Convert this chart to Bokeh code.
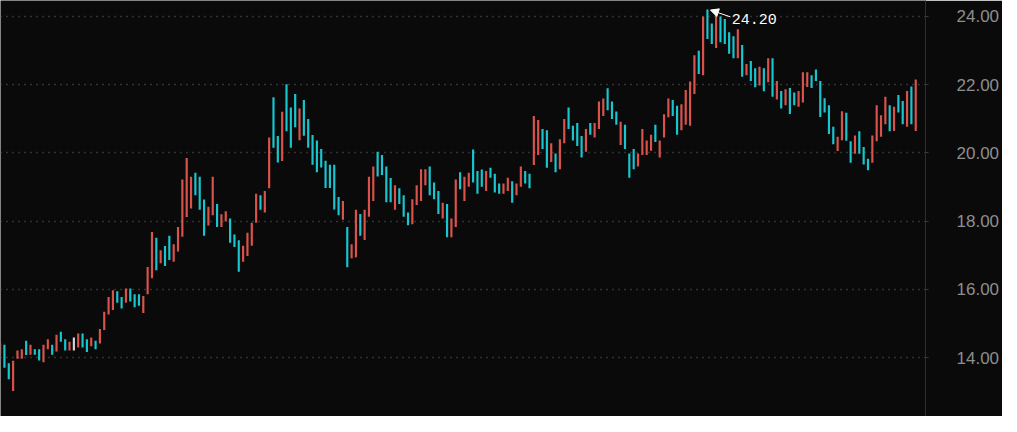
from bokeh.plotting import figure
from bokeh.models import ColumnDataSource, Range1d, FixedTicker, PrintfTickFormatter, Arrow, NormalHead
from bokeh.core.properties import value
from bokeh.embed import file_html
from bokeh.resources import INLINE

# ---- data (high / low of each bar, and its direction) ----
high = [
    14.43, 14.38, 13.84, 13.91, 14.21, 14.25, 14.50, 14.38, 14.25, 14.25,
    14.38, 14.54, 14.38, 14.67, 14.76, 14.54, 14.47, 14.59, 14.71, 14.71,
    14.54, 14.59, 14.50, 14.84, 15.35, 15.78, 15.98, 15.95, 15.78, 16.03,
    16.03, 15.86, 15.86, 15.81, 16.66, 17.68, 17.51, 17.15, 17.27, 17.57,
    17.32, 17.83, 19.22, 19.85, 19.30, 19.42, 19.30, 18.63, 18.42, 19.30,
    18.50, 18.20, 18.29, 18.08, 17.61, 17.44, 17.28, 17.66, 17.95, 18.80,
    18.76, 18.88, 20.45, 21.63, 20.49, 21.20, 22.01, 21.33, 21.72, 21.30,
    21.55, 20.99, 20.52, 20.36, 20.11, 19.77, 19.65, 19.65, 18.71, 18.59,
    17.83, 17.32, 18.33, 18.21, 18.33, 19.30, 19.60, 20.03, 19.94, 19.60,
    19.26, 19.05, 18.96, 18.76, 18.25, 18.64, 19.05, 19.52, 19.52, 19.60,
    19.13, 18.88, 18.54, 18.50, 18.08, 19.22, 19.43, 19.30, 19.42, 20.10,
    19.47, 19.51, 19.47, 19.56, 19.39, 19.10, 19.10, 19.27, 19.17, 19.10,
    19.60, 19.47, 19.39, 21.08, 20.96, 20.70, 20.66, 20.28, 19.98, 20.40,
    20.99, 21.33, 20.79, 20.87, 20.49, 20.70, 20.87, 20.87, 21.50, 21.59,
    21.89, 21.50, 21.21, 20.91, 20.82, 19.98, 20.11, 19.98, 20.70, 20.36,
    20.53, 20.82, 20.36, 21.13, 21.59, 21.55, 21.38, 21.42, 21.84, 22.09,
    22.86, 22.99, 23.99, 24.20, 23.79, 24.04, 23.99, 23.92, 23.53, 23.41,
    23.62, 23.16, 22.60, 22.69, 22.48, 22.52, 22.48, 22.77, 22.77, 22.10,
    21.81, 21.86, 21.90, 21.77, 21.81, 22.36, 22.36, 22.27, 22.44, 22.10,
    21.60, 21.39, 20.76, 20.47, 21.22, 21.17, 20.34, 20.51, 20.63, 20.17,
    19.83, 20.51, 21.39, 21.10, 21.64, 21.39, 21.35, 21.69, 21.52, 21.81,
    21.94, 22.15,
]
low = [
    14.10, 13.71, 13.37, 13.03, 13.97, 13.97, 14.08, 14.09, 14.09, 13.92,
    13.87, 14.25, 14.09, 14.18, 14.47, 14.21, 14.21, 14.21, 14.30, 14.30,
    14.17, 14.34, 14.25, 14.42, 14.81, 15.27, 15.40, 15.61, 15.44, 15.61,
    15.65, 15.48, 15.52, 15.31, 15.86, 16.33, 16.56, 16.77, 16.69, 16.86,
    16.81, 17.11, 17.54, 18.12, 18.37, 18.76, 18.33, 17.57, 17.87, 18.17,
    17.83, 17.83, 17.99, 17.37, 17.24, 16.52, 16.81, 16.98, 17.28, 17.95,
    18.33, 18.25, 18.96, 20.15, 19.72, 19.76, 20.63, 20.15, 20.75, 20.37,
    20.50, 20.15, 19.65, 19.43, 19.57, 18.97, 18.97, 18.34, 18.17, 18.04,
    16.65, 16.91, 16.94, 17.57, 17.45, 18.13, 18.59, 19.31, 19.35, 18.55,
    18.55, 18.33, 18.50, 18.13, 17.88, 17.91, 18.47, 18.59, 19.05, 18.76,
    18.64, 18.21, 18.08, 17.53, 17.53, 17.83, 18.93, 18.59, 19.01, 19.13,
    18.80, 19.01, 18.88, 19.27, 18.84, 18.80, 18.80, 18.88, 18.54, 18.76,
    19.01, 19.10, 18.96, 19.64, 19.94, 20.11, 19.56, 19.73, 19.43, 19.52,
    20.28, 20.70, 20.36, 20.20, 19.86, 20.03, 20.53, 20.45, 20.70, 21.08,
    21.25, 20.99, 20.82, 20.23, 20.11, 19.27, 19.52, 19.60, 19.94, 19.94,
    20.06, 20.32, 19.86, 20.45, 21.04, 21.08, 20.53, 20.66, 20.82, 20.79,
    21.72, 22.31, 22.27, 23.33, 23.19, 23.07, 23.24, 23.19, 22.90, 22.77,
    22.77, 22.23, 22.27, 22.10, 21.92, 21.97, 21.80, 22.07, 21.64, 21.56,
    21.30, 21.39, 21.14, 21.39, 21.35, 21.47, 21.93, 21.90, 22.10, 21.05,
    21.18, 20.55, 20.25, 20.05, 20.37, 20.35, 19.71, 19.97, 19.97, 19.66,
    19.49, 19.71, 20.34, 20.47, 20.84, 20.63, 20.64, 21.18, 20.84, 20.76,
    20.84, 20.64,
]
# r = up (red), c = down (cyan), w = unchanged (white)
move = (
    "rccrrrcrcc" "rrcrccrwrc" "crcrrrrccr" "cccrrrcrcc" "rrrrrcccrr"
    "crrcccrrrr" "crrccrcccr" "cccccccccr" "crrcrrrccc" "crcccrrrrc"
    "ccrcrrcrrc" "ccrcccrrcr" "rccrrccrcr" "rccccrcrrr" "cccrcccrrr"
    "rcrrrccrrr" "rcrccrcccc" "rcrccrcrcr" "crccrrrccc" "cccrrccrcc"
    "crrrrcrccr" "cr"
)
price_ticks = [14, 16, 18, 20, 22, 24]

# ---- styling ----
BG = "#0a0a0a"
UP = "#d9534c"
DOWN = "#17c6cf"
FLAT = "#d6d6d6"
cmap = {"r": UP, "c": DOWN, "w": FLAT}

n = len(high)
src = ColumnDataSource(dict(
    x=list(range(n)),
    high=high,
    low=low,
    color=[cmap[m] for m in move[:n]],
))

p = figure(
    frame_width=925, frame_height=416,
    min_border_left=0, min_border_top=0, min_border_bottom=0, min_border_right=76,
    x_range=Range1d(0.093, 213.25), y_range=Range1d(12.28, 24.46),
    x_axis_location=None, y_axis_location="right",
    output_backend="svg", toolbar_location=None,
)
p.background_fill_color = BG
p.border_fill_color = BG
p.outline_line_color = None

ax = p.yaxis[0]
ax.ticker = FixedTicker(ticks=price_ticks)
ax.formatter = PrintfTickFormatter(format="%.2f")
ax.axis_line_color = "#2e2e2e"
ax.major_tick_line_color = "#3a3a3a"
ax.major_tick_out = 3
ax.major_tick_in = 0
ax.minor_tick_line_color = None
ax.major_label_standoff = 28
ax.major_label_text_color = "#8e8e8e"
ax.major_label_text_font = "Liberation Sans"
ax.major_label_text_font_size = "17px"

p.ygrid.ticker = FixedTicker(ticks=price_ticks)
p.ygrid.grid_line_color = "#5a5a5a"
p.ygrid.grid_line_dash = "1 5"
p.ygrid.grid_line_width = 1.4
p.xgrid.visible = False

p.vbar(x="x", width=0.5, top="high", bottom="low", source=src,
       fill_color="color", line_color=None)

# ---- highest price marker ----
imax = max(range(n), key=lambda i: high[i])
hmax = high[imax]
p.add_layout(Arrow(
    end=NormalHead(size=8, fill_color="white", line_color="white"),
    x_start=imax + 5.3, y_start=hmax - 0.22, x_end=imax + 0.7, y_end=hmax - 0.02,
    line_color="white", line_width=1,
))
p.text(x=[imax + 5.6], y=[hmax - 0.27], text=[f"{hmax:.2f}"],
       text_color="white", text_font=value("Liberation Mono"),
       text_font_size="15px", text_baseline="middle", text_align="left")

open("out.html", "w").write(file_html(p, INLINE))
